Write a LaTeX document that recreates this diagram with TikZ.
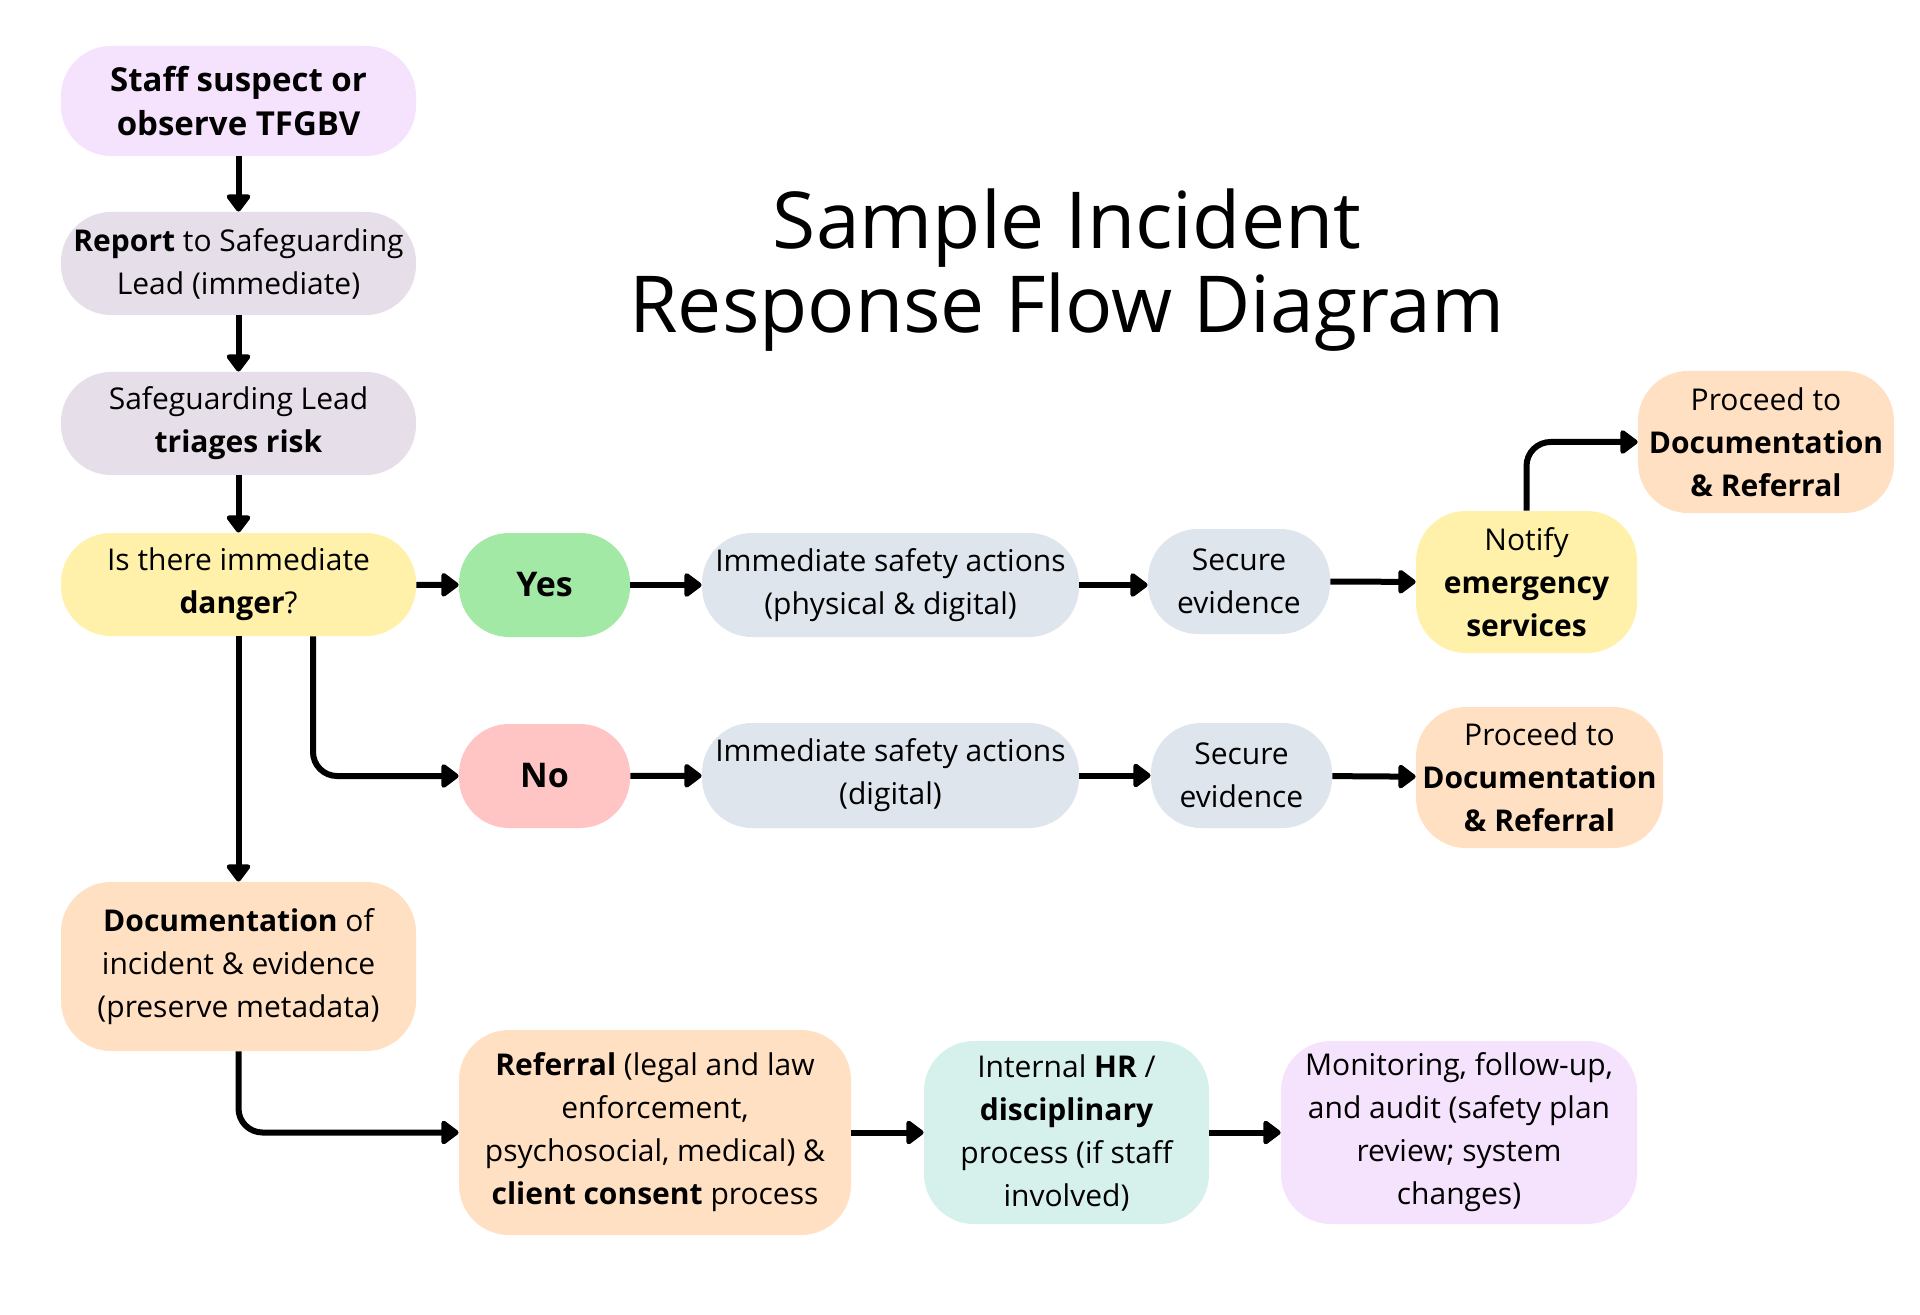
\documentclass[tikz,border=0pt]{standalone}
\usepackage{fontspec}
\setmainfont{Open Sans}
\usepackage{tikz}
\usetikzlibrary{
	arrows.meta,
	calc,
	positioning
}
\definecolor{Lilac}{RGB}{245,226,252}
\definecolor{Mauve}{RGB}{230,222,233}
\definecolor{Butter}{RGB}{255,241,170}
\definecolor{Mint}{RGB}{163,233,166}
\definecolor{Blush}{RGB}{255,197,197}
\definecolor{Mist}{RGB}{222,229,236}
\definecolor{Peach}{RGB}{255,224,194}
\definecolor{Aqua}{RGB}{214,240,236}

\begin{document}
\begin{tikzpicture}[x=0.5pt, y=-0.5pt,
		stage/.style={fill=#1, rounded corners=25pt, inner sep=0pt, align=center,
			font=\fontsize{15pt}{21.5pt}\selectfont},
		link/.style={line width=3pt, -{Triangle[length=9.5pt,width=13.5pt,round]}}]
			\fill[white] (0,0) rectangle (1920,1315);
			\useasboundingbox (0,0) rectangle (1920,1315);
			\node[font=\fontsize{39.3pt}{42pt}\selectfont, align=center, anchor=base] (Title) at (1067,333) {Sample Incident\\Response Flow Diagram};
			\node[stage=Lilac, minimum width=177.5pt, minimum height=55pt, font=\fontsize{16.5pt}{22pt}\selectfont] (Start) at (238.5,101) {\textbf{Staff suspect or}\\\textbf{observe TFGBV}};
			\node[stage=Mauve, minimum width=177.5pt, minimum height=51.5pt] (Report) at (238.5,263.5) {\textbf{Report} to Safeguarding\\Lead (immediate)};
			\node[stage=Mauve, minimum width=177.5pt, minimum height=51.5pt] (Triage) at (238.5,423.5) {Safeguarding Lead\\\textbf{triages risk}};
			\node[stage=Butter, minimum width=177.5pt, minimum height=51.5pt] (Danger) at (238.5,584.5) {Is there immediate\\\textbf{danger}?};
			\node[stage=Mint, minimum width=85.5pt, minimum height=52pt, font=\fontsize{17pt}{20pt}\selectfont\bfseries] (Yes) at (544.5,585) {Yes};
			\node[stage=Blush, minimum width=85.5pt, minimum height=52pt, font=\fontsize{17pt}{20pt}\selectfont\bfseries] (No) at (544.5,776) {No};
			\node[stage=Mist, minimum width=188.5pt, minimum height=52pt] (SafetyA) at (890.5,585) {Immediate safety actions\\(physical \& digital)};
			\node[stage=Mist, minimum width=91pt, minimum height=52.5pt] (SecureA) at (1239,581.5) {Secure\\evidence};
			\node[stage=Butter, minimum width=110.5pt, minimum height=71pt] (Notify) at (1526.5,582) {Notify\\\textbf{emergency}\\\textbf{services}};
			\node[stage=Peach, minimum width=128pt, minimum height=71pt] (ProceedA) at (1766,442) {Proceed to\\\textbf{Documentation}\\\textbf{\& Referral}};
			\node[stage=Mist, minimum width=188.5pt, minimum height=52.5pt] (SafetyB) at (890.5,775.5) {Immediate safety actions\\(digital)};
			\node[stage=Mist, minimum width=90.5pt, minimum height=52.5pt] (SecureB) at (1241.5,775.5) {Secure\\evidence};
			\node[stage=Peach, minimum width=123.5pt, minimum height=70.5pt] (ProceedB) at (1539.5,777.5) {Proceed to\\\textbf{Documentation}\\\textbf{\& Referral}};
			\node[stage=Peach, minimum width=177.5pt, minimum height=84.5pt] (Doc) at (238.5,966.5) {\textbf{Documentation} of\\incident \& evidence\\(preserve metadata)};
			\node[stage=Peach, minimum width=196pt, minimum height=102.5pt] (Referral) at (655,1132.5) {\textbf{Referral} (legal and law\\enforcement,\\psychosocial, medical) \&\\\textbf{client consent} process};
			\node[stage=Aqua, minimum width=142.5pt, minimum height=91.5pt] (HR) at (1066.5,1132.5) {Internal \textbf{HR} /\\\textbf{disciplinary}\\process (if staff\\involved)};
			\node[stage=Lilac, minimum width=178pt, minimum height=91.5pt] (Monitor) at (1459,1132.5) {Monitoring, follow-up,\\and audit (safety plan\\review; system\\changes)};
			\draw[link] (Start) -- (Report);
			\draw[link] (Report) -- (Triage);
			\draw[link] (Triage) -- (Danger);
			\draw[link] (Danger) -- (Yes);
			\draw[link, rounded corners=12pt] ([xshift=37.25pt]Danger.south) |- (No);
			\draw[link] (Danger) -- (Doc);
			\draw[link] (Yes) -- (SafetyA);
			\draw[link] (SafetyA.east) -- (SafetyA.east -| SecureA.west);
			\draw[link] (SecureA) -- (Notify);
			\draw[link, rounded corners=12pt] (Notify) |- (ProceedA);
			\draw[link] (No) -- (SafetyB);
			\draw[link] (SafetyB) -- (SecureB);
			\draw[link] (SecureB) -- (ProceedB);
			\draw[link, rounded corners=12pt] (Doc) |- (Referral);
			\draw[link] (Referral) -- (HR);
			\draw[link] (HR) -- (Monitor);
		\end{tikzpicture}
\end{document}
